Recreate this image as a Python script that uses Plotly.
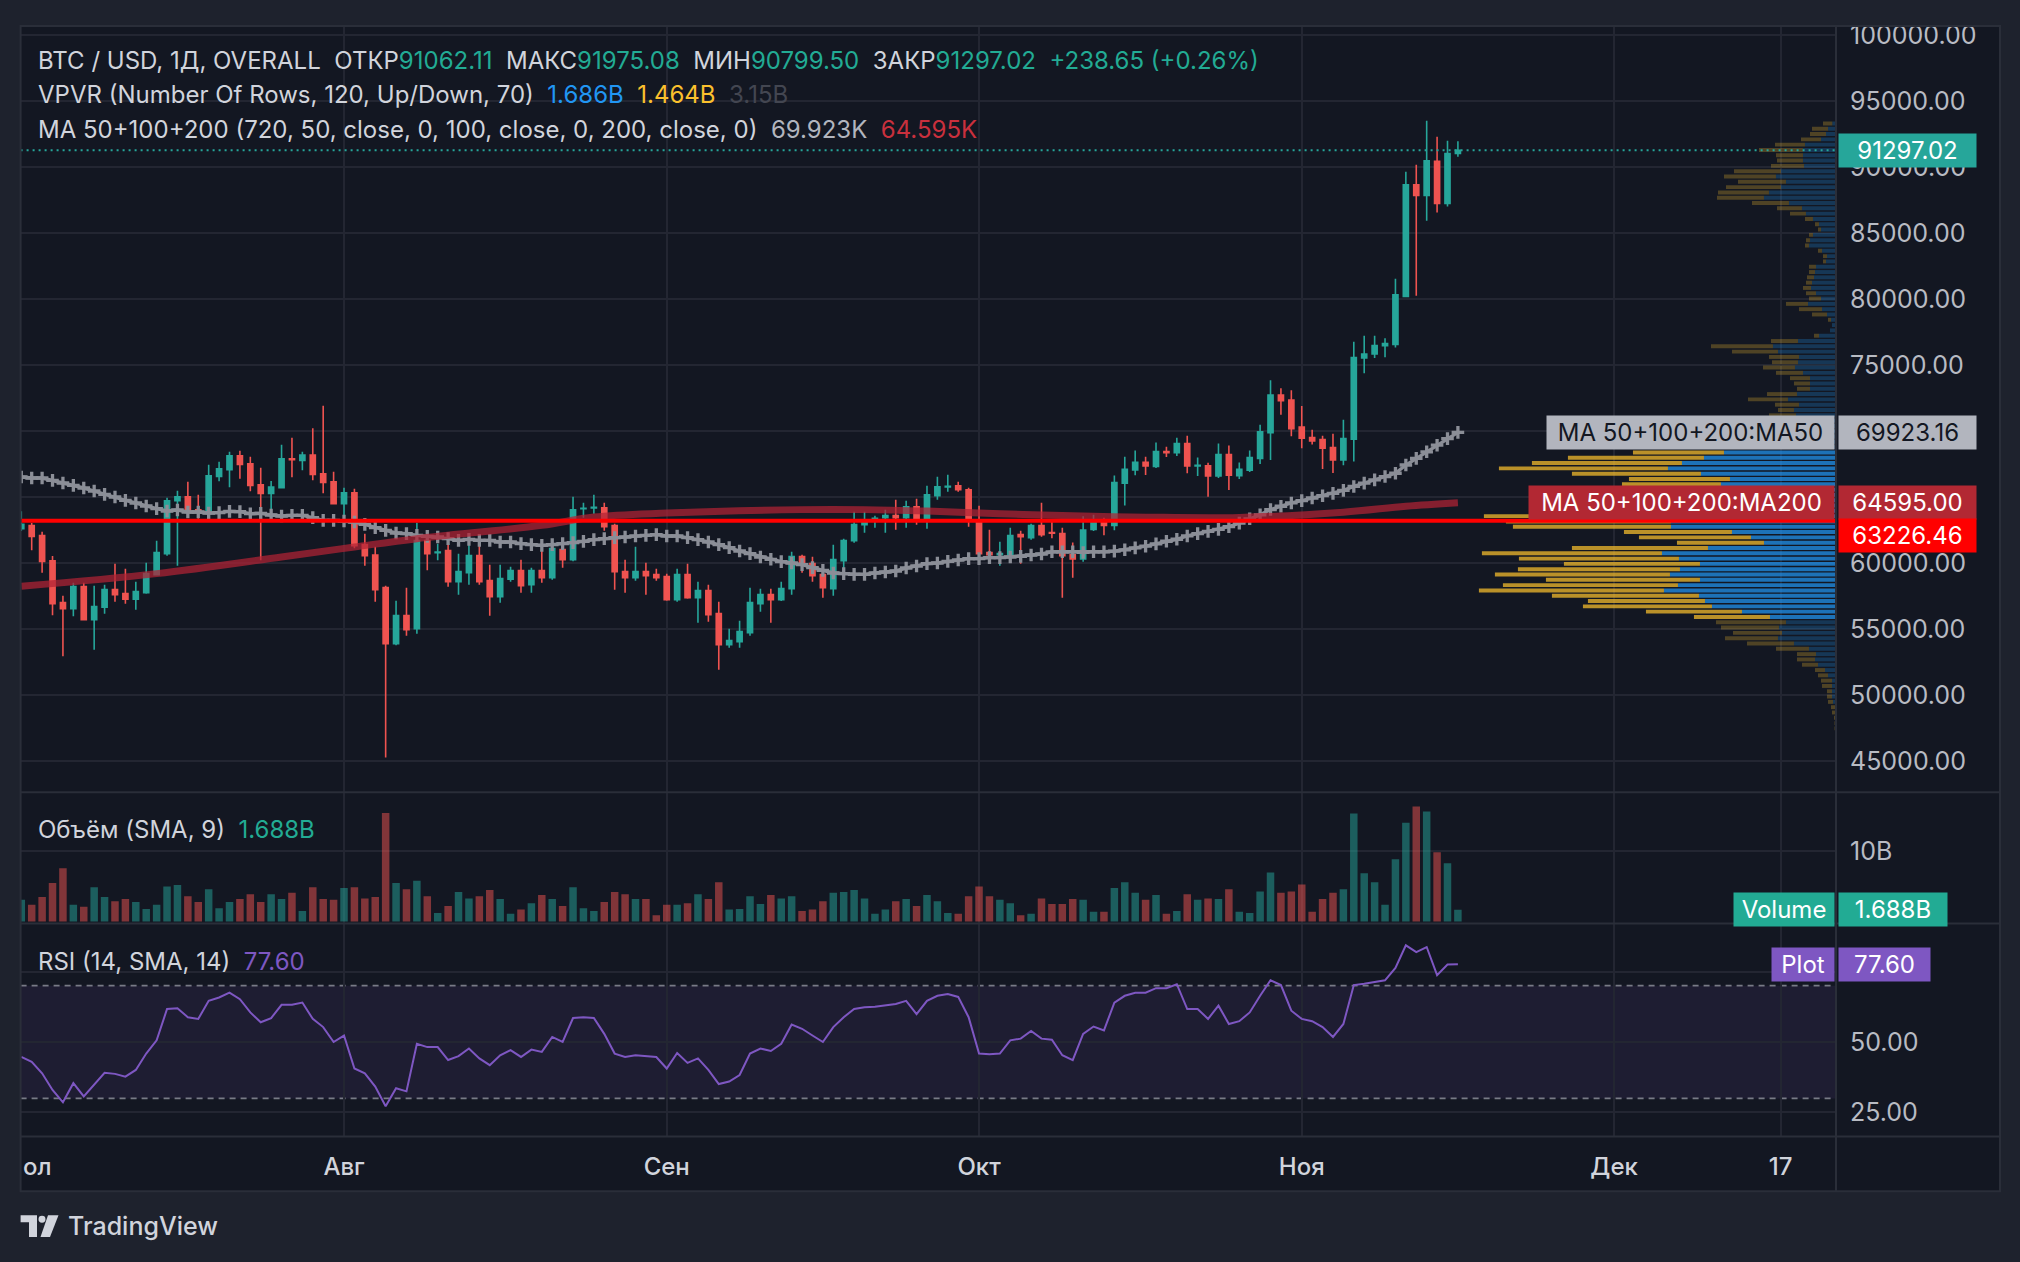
import plotly.graph_objects as go
import pandas as pd

W, H = 2020, 1262
def px(x): return x / W
def py(y): return 1 - y / H

# ---------------- data ----------------
dates = pd.date_range("2024-07-01", periods=139, freq="D")

opens = [62627, 62855, 62100, 60200, 57021, 56567, 58233, 55733, 56668, 58006,
         57703, 57274, 57779, 59142, 60733, 64748, 65051, 64066, 63965, 66591,
         67096, 68157, 67551, 65960, 65304, 65733, 67929, 67803, 68207, 66793,
         66187, 64520, 65354, 61415, 60632, 58157, 53915, 56036, 55051, 61718,
         60809, 60960, 58612, 59294, 60582, 58688, 57476, 58789, 59445, 58385,
         59445, 58915, 61036, 60278, 64141, 64200, 64217, 62854, 59369, 58915,
         59369, 59142, 58991, 57248, 59142, 57400, 57930, 56188, 53839, 54066,
         54748, 56946, 57627, 57248, 58082, 60506, 59975, 59142, 58082, 60203,
         61718, 62930, 63369, 63460, 63612, 63460, 64293, 63384, 65126, 65790,
         65884, 65581, 63081, 60809, 60657, 60657, 62172, 61945, 62854, 62325,
         62250, 60650, 60325, 62575, 63150, 62875, 66075, 67075, 67650, 67350,
         68475, 68375, 69075, 67375, 67400, 66625, 68250, 66650, 67050, 67950,
         69900, 72750, 72375, 70325, 69525, 69375, 68775, 67825, 69400, 75557,
         75860, 76500, 76592, 80228, 88687, 87879, 90455, 87273, 91062.11]
highs = [63940, 63056, 62400, 60556, 57550, 58536, 58536, 58309, 58385, 59976,
         59597, 58612, 60051, 61718, 64975, 65506, 66187, 65203, 67475, 67702,
         68460, 68536, 68081, 67248, 66237, 68990, 69520, 68460, 70227, 71932,
         66944, 65732, 65657, 62248, 61263, 58309, 57173, 58157, 63081, 61945,
         61490, 61869, 60733, 62172, 61869, 59900, 59900, 59748, 60278, 59672,
         61490, 61793, 61415, 65051, 64596, 65202, 64596, 63005, 60278, 61263,
         60051, 59597, 59218, 59597, 59976, 58612, 58385, 57097, 55051, 55657,
         58157, 58082, 58082, 58612, 60884, 60657, 60506, 59294, 61415, 61869,
         63915, 63915, 63612, 64066, 64823, 64748, 64899, 65884, 66566, 66717,
         66187, 65732, 64369, 62551, 61642, 62702, 62475, 63005, 64596, 63150,
         62700, 61575, 63575, 63675, 63450, 66650, 68075, 68550, 68075, 69150,
         68825, 69525, 69675, 68025, 67625, 69075, 68925, 67650, 68550, 70500,
         73875, 73275, 73125, 71925, 70125, 69675, 69825, 70875, 76800, 77250,
         77250, 77050, 81567, 89672, 90202, 93535, 92323, 92020, 91975.08]
lows = [62450, 60985, 59294, 56062, 52956, 55986, 55683, 53461, 56188, 57097,
        56946, 56491, 57703, 59142, 60582, 59824, 63637, 63384, 63384, 66212,
        65758, 66414, 65455, 60228, 63384, 65682, 66515, 67046, 66288, 65304,
        64469, 62980, 61137, 59824, 57097, 45280, 53800, 54521, 54673, 59471,
        60228, 58233, 57627, 58385, 58385, 56036, 57021, 58600, 57779, 57779,
        58536, 58763, 59672, 60150, 63460, 63763, 62475, 58006, 57779, 58688,
        57627, 58688, 57173, 57097, 57324, 55506, 55582, 51946, 53612, 53612,
        54521, 56339, 55506, 57150, 57627, 59294, 58612, 57400, 57551, 59142,
        61566, 62324, 62702, 62324, 62551, 62702, 62930, 62627, 64823, 65430,
        65430, 62778, 59975, 59975, 59824, 60430, 59975, 61793, 62021, 61900,
        57400, 58900, 60125, 62450, 62125, 62500, 64375, 66675, 66700, 67225,
        68050, 68125, 66825, 66625, 65050, 66475, 65550, 66400, 66925, 67525,
        67825, 71250, 69625, 68725, 69000, 67150, 66850, 67425, 67725, 74400,
        75550, 75625, 76360, 80203, 80279, 85960, 86591, 87046, 90799.50]
closes = [62955, 62046, 60152, 56946, 56567, 58233, 55733, 56718, 58006, 57627,
          57274, 57855, 59218, 60809, 64748, 65051, 63965, 63965, 66642, 67172,
          68157, 67500, 65910, 65304, 65783, 67929, 67854, 68207, 66743, 66136,
          64520, 65354, 61339, 60582, 58006, 53915, 56036, 54976, 61718, 60733,
          60859, 58612, 59370, 60582, 58612, 57476, 58840, 59445, 58309, 59445,
          58915, 61111, 60278, 64066, 64166, 64240, 62778, 59369, 58915, 59369,
          59066, 58915, 57248, 59142, 57400, 57930, 56112, 53839, 54142, 54824,
          57021, 57627, 57248, 58082, 60506, 59975, 59066, 58157, 60278, 61718,
          62930, 63081, 63420, 63612, 63460, 64293, 63384, 65202, 65808, 65830,
          65581, 63384, 60733, 60657, 60733, 62097, 62021, 62854, 62172, 62275,
          60575, 60325, 62525, 63075, 62875, 66125, 67125, 67650, 67375, 68475,
          68375, 69075, 67375, 67425, 66625, 68250, 66675, 67125, 68025, 69975,
          72750, 72325, 70200, 69475, 69275, 68725, 67825, 69450, 75600, 75860,
          76500, 76650, 80355, 88687, 87879, 90505, 87273, 91058.37, 91297.02]
volumes_b = [3.1, 2.4, 3.5, 5.5, 7.6, 2.4, 2.1, 4.9, 3.5, 2.9,
             3.2, 2.8, 1.8, 2.4, 5.0, 5.2, 3.6, 2.8, 4.6, 1.9,
             2.8, 3.2, 3.9, 2.8, 3.9, 3.2, 4.1, 1.5, 4.9, 3.2,
             3.1, 4.8, 4.9, 3.3, 3.5, 15.5, 5.5, 4.6, 5.8, 3.6,
             1.2, 2.2, 4.2, 3.3, 3.6, 4.5, 3.2, 1.1, 1.7, 2.6,
             3.8, 3.2, 2.2, 4.9, 1.9, 1.5, 2.8, 4.2, 3.9, 3.2,
             3.2, 0.9, 2.4, 2.4, 2.6, 3.9, 3.2, 5.6, 1.7, 1.8,
             3.6, 2.5, 3.8, 3.3, 3.6, 1.5, 1.7, 2.9, 4.1, 4.2,
             4.5, 3.3, 1.1, 1.7, 2.9, 3.2, 2.2, 3.8, 2.9, 1.2,
             1.1, 3.6, 5.0, 3.6, 3.1, 2.6, 0.9, 1.1, 3.3, 2.5,
             2.5, 3.2, 3.1, 1.4, 1.4, 4.8, 5.6, 4.1, 3.1, 3.8,
             1.1, 1.5, 3.9, 3.1, 3.3, 3.2, 4.6, 1.4, 1.2, 4.3,
             7.0, 4.1, 4.3, 5.3, 1.4, 3.2, 4.1, 4.6, 15.4, 6.9,
             5.6, 2.4, 8.9, 14.1, 16.4, 15.7, 9.9, 8.3, 1.688]
rsi = [44.7, 43.0, 38.9, 33.0, 28.6, 35.4, 30.7, 34.8, 39.1, 38.7,
       37.7, 40.1, 45.9, 50.6, 61.7, 62.0, 58.8, 58.2, 64.6, 65.8,
       67.5, 65.2, 60.5, 57.0, 58.5, 63.2, 63.2, 64.0, 58.2, 55.3,
       50.0, 52.3, 40.6, 38.9, 34.2, 27.2, 33.6, 32.5, 49.4, 48.2,
       48.2, 43.6, 45.0, 47.7, 44.2, 41.8, 45.3, 47.1, 44.7, 47.3,
       46.5, 51.8, 50.0, 58.5, 58.8, 58.5, 52.9, 45.9, 44.7, 45.3,
       45.0, 44.7, 40.6, 46.1, 42.6, 44.2, 40.1, 35.1, 36.0, 38.3,
       45.9, 47.7, 46.8, 49.4, 56.2, 54.7, 52.3, 50.0, 55.3, 58.8,
       61.7, 62.3, 62.5, 62.9, 63.5, 64.6, 59.9, 64.6, 66.4, 67.0,
       66.0, 58.8, 45.9, 45.7, 45.9, 50.6, 51.2, 53.9, 51.2, 50.8,
       45.3, 43.6, 52.9, 55.5, 54.1, 64.0, 66.4, 67.5, 67.5, 69.1,
       69.1, 70.5, 61.7, 61.7, 58.2, 62.9, 56.4, 57.4, 60.5, 66.4,
       71.9, 70.2, 61.1, 58.2, 57.4, 55.3, 51.8, 56.4, 70.2, 70.7,
       71.4, 71.9, 76.3, 84.3, 81.9, 83.7, 73.7, 77.5, 77.60]
ma50 = [66541, 66465, 66465, 66288, 66086, 65910, 65708, 65480, 65228, 65026,
        64773, 64571, 64344, 64142, 63965, 64040, 63890, 63890, 63814, 63839,
        63940, 63915, 63763, 63787, 63662, 63587, 63637, 63637, 63460, 63258,
        63258, 63208, 63132, 62955, 62703, 62501, 62299, 62248, 62122, 62046,
        61996, 61869, 61743, 61819, 61743, 61743, 61617, 61617, 61490, 61415,
        61364, 61415, 61490, 61566, 61667, 61793, 61869, 61945, 61995, 62071,
        62122, 62172, 62071, 62071, 61945, 61793, 61617, 61415, 61188, 60935,
        60733, 60480, 60304, 60127, 60026, 59900, 59672, 59470, 59269, 59218,
        59167, 59167, 59269, 59344, 59420, 59647, 59798, 59975, 60026, 60152,
        60253, 60354, 60354, 60430, 60430, 60480, 60531, 60632, 60707, 60875,
        60875, 60875, 60825, 60875, 60875, 60925, 61025, 61175, 61300, 61475,
        61675, 61825, 62075, 62250, 62425, 62575, 62775, 63050, 63375, 63675,
        64075, 64325, 64575, 64750, 64950, 65125, 65300, 65525, 65825, 66075,
        66325, 66575, 66825, 67450, 67950, 68450, 68950, 69450, 69923.16]
ma200_dates = ["2024-07-01", "2024-07-14", "2024-07-26", "2024-08-02", "2024-08-08",
               "2024-08-20", "2024-08-25", "2024-09-01", "2024-09-14", "2024-09-20",
               "2024-09-26", "2024-10-03", "2024-10-08", "2024-10-17", "2024-10-26",
               "2024-11-05", "2024-11-11", "2024-11-16"]
ma200 = [58260, 59220, 60480, 61240, 61870, 62880, 63510, 63810, 64070, 64070,
         63960, 63760, 63640, 63500, 63480, 63875, 64325, 64595.00]
# Visible-range volume profile, 120 rows, listed from the top row down
vpvr_up = [3.7, 8, 10, 15, 31, 33, 33, 33, 32, 55, 60, 50, 55, 67, 72, 47, 34, 30, 23, 17,
           15, 23, 26, 27, 14, 9, 10, 20, 21, 22, 24, 25, 20, 15, 28, 14, 9, 5, 4, 6,
           17, 38, 63, 58, 37, 38, 41, 33, 26, 26, 26, 39, 48, 37, 42, 40, 50, 65, 80, 90,
           95, 100, 112, 132, 154, 168, 135, 106, 115, 115, 130, 140, 135, 145, 175, 165, 165, 104, 85, 72,
           128, 174, 157, 136, 156, 166, 136, 158, 172, 137, 131, 124, 94, 66, 50, 57, 54, 58, 42, 27,
           20, 21, 18, 11, 8, 4, 4, 4, 4, 3, 1, 1, 0.5, 0.5, 0.5, 0.3, 0.3, 0.3, 0.3, 0.3]
vpvr_down = [9.3, 16, 16, 20, 30, 44, 27, 26, 33, 47, 52, 48, 55, 51, 47, 37, 25, 16, 8, 4,
             3, 4, 4, 4, 4, 4, 3, 7, 6, 7, 6, 8, 10, 12, 22, 23, 15, 3, 0, 0,
             5, 27, 62, 46, 30, 26, 32, 27, 20, 16, 13, 30, 40, 24, 16, 27, 40, 55, 70, 80,
             85, 90, 91, 136, 150, 169, 129, 101, 99, 115, 130, 140, 135, 145, 177, 165, 158, 108, 112, 87,
             136, 180, 160, 136, 162, 175, 154, 175, 185, 147, 117, 129, 96, 76, 70, 58, 49, 53, 47, 33,
             19, 18, 16, 10, 10, 11, 10, 5, 5, 5, 4, 3, 1.5, 1, 1, 0.7, 0.7, 0.7, 0.7, 0.7]
value_area_rows = (62, 93)          # rows (from top) inside the 70% value area
vpvr_labels = ["1.686B", "1.464B", "3.15B"]
hline_level = 63226.46
month_ticks = ["2024-07-01", "2024-08-01", "2024-09-01", "2024-10-01",
               "2024-11-01", "2024-12-01", "2024-12-17"]
month_labels = ["", "Авг", "Сен", "Окт", "Ноя", "Дек", "17"]
price_ticks = [45000, 50000, 55000, 60000, 65000, 70000, 75000, 80000, 85000, 90000, 95000, 100000]
hidden_price_ticks = [65000, 70000]   # covered by the MA value labels
rsi_ticks = [25, 50, 75]

# ---------------- style ----------------
FONT = "Inter"
UP, DN = "#26a69a", "#ef5350"
BG_OUT, BG_IN = "#1e222d", "#131722"
GRID = "#232632"
SEP = "#2a2e39"
TXT = "#d1d4dc"
AX = "#b8bbc3"
TEAL = "#22ab94"
MA50C = "#8b8e97"

XD = [px(20.6), px(1836)]
x_range = ["2024-06-30 22:24", "2024-12-22 07:40"]

fig = go.Figure()

fig.add_trace(go.Scatter(
    x=dates, y=ma50, mode="lines+markers", xaxis="x", yaxis="y", showlegend=False,
    line=dict(color=MA50C, width=3.4),
    marker=dict(symbol="cross-thin", size=9, color=MA50C, line=dict(color=MA50C, width=3.3)),
    hoverinfo="skip"))

fig.add_trace(go.Scatter(
    x=ma200_dates, y=ma200, mode="lines", xaxis="x", yaxis="y", showlegend=False,
    line=dict(color="rgba(178,34,52,0.72)", width=7, shape="spline"), hoverinfo="skip"))

fig.add_trace(go.Candlestick(
    x=dates, open=opens, high=highs, low=lows, close=closes,
    xaxis="x", yaxis="y", whiskerwidth=0, showlegend=False, hoverinfo="skip",
    increasing=dict(line=dict(color=UP, width=1.6), fillcolor=UP),
    decreasing=dict(line=dict(color=DN, width=1.6), fillcolor=DN)))

# volume profile rows
vp_low, vp_high = min(lows), max(highs)
nrows = len(vpvr_up)
rowh = (vp_high - vp_low) / nrows
centers = [vp_high - (r + 0.5) * rowh for r in range(nrows)]
in_va = [value_area_rows[0] <= r <= value_area_rows[1] for r in range(nrows)]
up_cols = ["rgba(33,150,243,0.72)" if v else "rgba(33,150,243,0.25)" for v in in_va]
dn_cols = ["rgba(251,192,45,0.72)" if v else "rgba(251,192,45,0.26)" for v in in_va]
totals = [u + d for u, d in zip(vpvr_up, vpvr_down)]
vp_axis_max = max(totals) / 0.1967

fig.add_trace(go.Bar(
    y=centers, x=vpvr_up, base=[0] * nrows, orientation="h", width=rowh * 0.74,
    marker=dict(color=up_cols, line=dict(width=0)), xaxis="x4", yaxis="y",
    showlegend=False, hoverinfo="skip"))
fig.add_trace(go.Bar(
    y=centers, x=vpvr_down, base=vpvr_up, orientation="h", width=rowh * 0.74,
    marker=dict(color=dn_cols, line=dict(width=0)), xaxis="x4", yaxis="y",
    showlegend=False, hoverinfo="skip"))

vol_cols = ["rgba(38,166,154,0.5)" if c >= o else "rgba(239,83,80,0.5)" for o, c in zip(opens, closes)]
fig.add_trace(go.Bar(
    x=dates, y=volumes_b, width=0.72 * 86400000, xaxis="x2", yaxis="y2",
    marker=dict(color=vol_cols, line=dict(width=0)), showlegend=False, hoverinfo="skip"))

fig.add_trace(go.Scatter(
    x=dates, y=rsi, mode="lines", xaxis="x3", yaxis="y3", showlegend=False,
    line=dict(color="#7e57c2", width=2), hoverinfo="skip"))

# ---------------- axes ----------------
xcommon = dict(type="date", domain=XD, tickvals=month_ticks, showgrid=True, gridcolor=GRID,
               gridwidth=1.5, zeroline=False, showline=False, ticks="")
tickfont = dict(family=FONT, size=25, color=AX)
ycommon = dict(side="right", showgrid=True, gridcolor=GRID, gridwidth=1.5, zeroline=False,
               showline=False, ticks="", tickfont=tickfont, ticklabelstandoff=13)

fig.update_layout(
    width=W, height=H, margin=dict(l=0, r=0, t=0, b=0),
    paper_bgcolor=BG_OUT, plot_bgcolor=BG_IN, hovermode=False, barmode="overlay",
    boxgap=0.3, showlegend=False,
    xaxis=dict(xcommon, anchor="y", range=x_range, showticklabels=False, rangeslider=dict(visible=False)),
    xaxis2=dict(xcommon, anchor="y2", matches="x", showticklabels=False),
    xaxis3=dict(xcommon, anchor="y3", matches="x", ticktext=month_labels,
                tickfont=dict(family=FONT, size=24, color=TXT, weight=500), ticklabelstandoff=13),
    xaxis4=dict(overlaying="x", anchor="y", domain=XD, range=[vp_axis_max, 0], visible=False),
    yaxis=dict(ycommon, anchor="x", domain=[py(790), py(20)], range=[42655, 100724],
               tickvals=price_ticks,
               ticktext=["" if v in hidden_price_ticks else f"{v:.2f}" for v in price_ticks]),
    yaxis2=dict(ycommon, anchor="x2", domain=[py(922), py(790)], range=[-0.3, 18.45],
                tickvals=[10], ticktext=["10B"]),
    yaxis3=dict(ycommon, anchor="x3", domain=[py(1136), py(922)], range=[16.45, 92.0],
                tickvals=rsi_ticks, ticktext=["25.00", "50.00", ""]),
)

# ---------------- shapes ----------------
shapes = [
    dict(type="rect", xref="paper", yref="paper", x0=px(20.6), x1=px(2000), y0=py(1191), y1=py(20),
         fillcolor=BG_IN, line=dict(width=0), layer="below"),
    dict(type="rect", xref="x3 domain", yref="y3", x0=0, x1=1, y0=30, y1=70,
         fillcolor="rgba(126,87,194,0.10)", line=dict(width=0), layer="below"),
]
for lvl in (70, 50, 30):
    shapes.append(dict(type="line", xref="x3 domain", yref="y3", x0=0, x1=1, y0=lvl, y1=lvl,
                       line=dict(color="#787b86", width=1.6, dash="6px,5px"), layer="below"))
shapes.append(dict(type="line", xref="x domain", yref="y", x0=0, x1=1, y0=closes[-1], y1=closes[-1],
                   line=dict(color=UP, width=2, dash="2px,4px"), layer="above"))
shapes.append(dict(type="line", xref="x domain", yref="y", x0=0, x1=1, y0=hline_level, y1=hline_level,
                   line=dict(color="#ff0000", width=4), layer="above"))
for yy in (790, 922, 1136):
    shapes.append(dict(type="line", xref="paper", yref="paper", x0=px(20.6), x1=px(2000), y0=py(yy), y1=py(yy),
                       line=dict(color=SEP, width=2), layer="above"))
shapes.append(dict(type="line", xref="paper", yref="paper", x0=px(1836), x1=px(1836), y0=py(1191), y1=py(20),
                   line=dict(color=SEP, width=2), layer="above"))
shapes.append(dict(type="rect", xref="paper", yref="paper", x0=px(20.6), x1=px(2000), y0=py(1191), y1=py(20),
                   line=dict(color=SEP, width=2), layer="above"))

# TradingView logo mark
def poly(points):
    return "M " + " L ".join(f"{px(x):.5f},{py(y):.5f}" for x, y in points) + " Z"
LOGO = "#d1d4dc"
shapes.append(dict(type="path", xref="paper", yref="paper", fillcolor=LOGO, line=dict(width=0),
                   path=poly([(20.6, 1215), (37, 1215), (37, 1237), (29, 1237), (29, 1222), (20.6, 1222)])))
shapes.append(dict(type="circle", xref="paper", yref="paper", fillcolor=LOGO, line=dict(width=0),
                   x0=px(38.5), x1=px(45.5), y0=py(1222.5), y1=py(1215.5)))
shapes.append(dict(type="path", xref="paper", yref="paper", fillcolor=LOGO, line=dict(width=0),
                   path=poly([(48, 1215), (58.5, 1215), (50, 1237), (40.5, 1237)])))
fig.update_layout(shapes=shapes)

# ---------------- annotations ----------------
NB = "\u00a0"
def c(t, col): return f'<span style="color:{col}">{t}</span>'

chg = closes[-1] - closes[-2]
pct = chg / closes[-2] * 100
line1 = ("BTC / USD, 1Д, OVERALL" + NB * 2 + "ОТКР" + c(f"{opens[-1]:.2f}", TEAL) + NB * 2 +
         "МАКС" + c(f"{highs[-1]:.2f}", TEAL) + NB * 2 + "МИН" + c(f"{lows[-1]:.2f}", TEAL) + NB * 2 +
         "ЗАКР" + c(f"{closes[-1]:.2f}", TEAL) + NB * 2 + c(f"+{chg:.2f} (+{pct:.2f}%)", TEAL))
line2 = ("VPVR (Number Of Rows, 120, Up/Down, 70)" + NB * 2 + c(vpvr_labels[0], "#2196f3") + NB * 2 +
         c(vpvr_labels[1], "#fbc02d") + NB * 2 + c(vpvr_labels[2], "#434651"))
line3 = ("MA 50+100+200 (720, 50, close, 0, 100, close, 0, 200, close, 0)" + NB * 2 +
         c(f"{ma50[-1] / 1000:.3f}K", "#b2b5be") + NB * 2 + c(f"{ma200[-1] / 1000:.3f}K", "#c9303d"))
line_vol = "Объём (SMA, 9)" + NB * 2 + c(f"{volumes_b[-1]:.3f}B", TEAL)
line_rsi = "RSI (14, SMA, 14)" + NB * 2 + c(f"{rsi[-1]:.2f}", "#7e57c2")

ann = []
for txt, yy in ((line1, 55), (line2, 89), (line3, 124), (line_vol, 827), (line_rsi, 960)):
    ann.append(dict(text=txt, xref="paper", yref="paper", x=px(36), y=py(yy), xanchor="left",
                    yanchor="middle", showarrow=False, font=dict(family=FONT, size=24, color=TXT)))

def box(text, x0, x1, y, yref, bg, fg, yshift=0):
    return dict(text=text, xref="paper", yref=yref, x=px(x0), y=y, xanchor="left", yanchor="middle",
                width=x1 - x0, height=33, bgcolor=bg, borderpad=0, showarrow=False, align="center",
                valign="middle", yshift=yshift, font=dict(family=FONT, size=24, color=fg))

ann += [
    box(f"{closes[-1]:.2f}", 1838, 1975, closes[-1], "y", UP, "#ffffff"),
    box("MA 50+100+200:MA50", 1546, 1833, ma50[-1], "y", "#b2b5be", "#131722"),
    box(f"{ma50[-1]:.2f}", 1838, 1975, ma50[-1], "y", "#b2b5be", "#131722"),
    box("MA 50+100+200:MA200", 1528, 1833, ma200[-1], "y", "#b22833", "#ffffff"),
    box(f"{ma200[-1]:.2f}", 1838, 1975, ma200[-1], "y", "#b22833", "#ffffff"),
    box(f"{hline_level:.2f}", 1838, 1975, hline_level, "y", "#ff0000", "#ffffff", yshift=-15),
    box("Volume", 1733, 1833, volumes_b[-1], "y2", TEAL, "#ffffff"),
    box(f"{volumes_b[-1]:.3f}B", 1838, 1946, volumes_b[-1], "y2", TEAL, "#ffffff"),
    box("Plot", 1771, 1833, rsi[-1], "y3", "#7e57c2", "#ffffff"),
    box(f"{rsi[-1]:.2f}", 1838, 1929, rsi[-1], "y3", "#7e57c2", "#ffffff"),
]
ann.append(dict(text="ол", xref="paper", yref="paper", x=px(20.6), y=py(1166), xanchor="left",
                yanchor="middle", showarrow=False, font=dict(family=FONT, size=24, color=TXT, weight=500)))
ann.append(dict(text="TradingView", xref="paper", yref="paper", x=px(66), y=py(1226), xanchor="left",
                yanchor="middle", showarrow=False, font=dict(family=FONT, size=25, color=TXT, weight=500)))
fig.update_layout(annotations=ann)

fig.write_html("out.html", config={"displayModeBar": False},
               post_script="document.body.style.margin='0px';document.body.style.overflow='hidden';")
